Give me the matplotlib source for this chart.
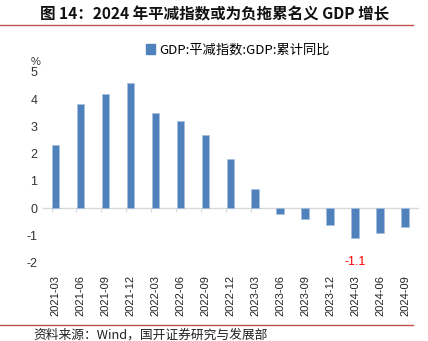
import matplotlib
matplotlib.use("Agg")
import matplotlib.pyplot as plt
from matplotlib.lines import Line2D

categories = ["2021-03", "2021-06", "2021-09", "2021-12", "2022-03", "2022-06",
              "2022-09", "2022-12", "2023-03", "2023-06", "2023-09", "2023-12",
              "2024-03", "2024-06", "2024-09"]
values = [2.3, 3.8, 4.2, 4.6, 3.5, 3.2, 2.7, 1.8, 0.7, -0.2, -0.4, -0.6, -1.1, -0.9, -0.7]
series_name = "GDP:平减指数:GDP:累计同比"
title = "图 14：2024 年平减指数或为负拖累名义 GDP 增长"
source = "资料来源：Wind，国开证券研究与发展部"
yticks = [-2, -1, 0, 1, 2, 3, 4, 5]
annot_idx = 12

cjk = ["Noto Sans CJK SC", "DejaVu Sans"]
num = ["Liberation Sans", "DejaVu Sans"]

fig = plt.figure(figsize=(4.28, 3.41), dpi=100)
ax = fig.add_axes([0.1005, 0.2293, 0.875, 0.5604])

bar_color = "#4F81BD"
x = list(range(len(categories)))
ax.bar(x, values, width=0.3, color=bar_color, edgecolor="#A7BFDE", linewidth=0.5, zorder=3)

ax.set_xlim(-0.5, len(categories) - 0.5)
ax.set_ylim(-2, 5)
ax.set_yticks(yticks)
ax.set_yticklabels([str(v) for v in yticks], fontfamily=num, fontsize=9, color="#333333")
ax.tick_params(axis="y", length=0, pad=4)

ax.set_xticks(x)
ax.set_xticklabels(categories, rotation=90, fontfamily=num, fontsize=8, color="#222222")
ax.tick_params(axis="x", length=0, pad=9)

for s in ["top", "right", "left", "bottom"]:
    ax.spines[s].set_visible(False)

# zero line axis with tick marks
loc = (0 - (-2)) / (5 - (-2))
sec = ax.secondary_xaxis(loc)
sec.set_xticks([i - 0.16 for i in x])
sec.set_xticklabels([])
sec.tick_params(axis="x", direction="out", length=3, color="#D9D9D9", width=0.8)
sec.spines["bottom"].set_color("#D9D9D9")
sec.spines["bottom"].set_linewidth(1.0)
for s in ["top", "left", "right"]:
    sec.spines[s].set_visible(False)

# annotation
ax.annotate(f"{values[annot_idx]}", xy=(annot_idx, values[annot_idx]), xytext=(0, -17),
            textcoords="offset points", ha="center", va="center",
            color="#FF0000", fontsize=9, fontfamily=num)

# % label
fig.text(0.083, 0.818, "%", fontsize=8, fontfamily=num, color="#333333", ha="center", va="center")

# legend
handle = plt.Rectangle((0, 0), 1, 1, color=bar_color)
fig.legend([handle], [series_name], loc="center", bbox_to_anchor=(0.555, 0.853),
           frameon=False, prop={"family": cjk, "size": 9.5}, handlelength=0.7,
           handleheight=0.7, handletextpad=0.3, borderpad=0)

# title
fig.text(0.502, 0.958, title, fontsize=11.2, fontweight="bold", fontfamily=cjk,
         ha="center", va="center", color="#111111")
fig.add_artist(Line2D([0.0, 0.965], [0.928, 0.928], color="#C0504D", linewidth=1.0))

# bottom line and source
fig.add_artist(Line2D([0.0, 0.965], [0.047, 0.047], color="#C0504D", linewidth=1.0))
fig.text(0.077, 0.017, source, fontsize=9.2, fontfamily=cjk, ha="left", va="center", color="#222222")

fig.savefig("out.png", dpi=100)
